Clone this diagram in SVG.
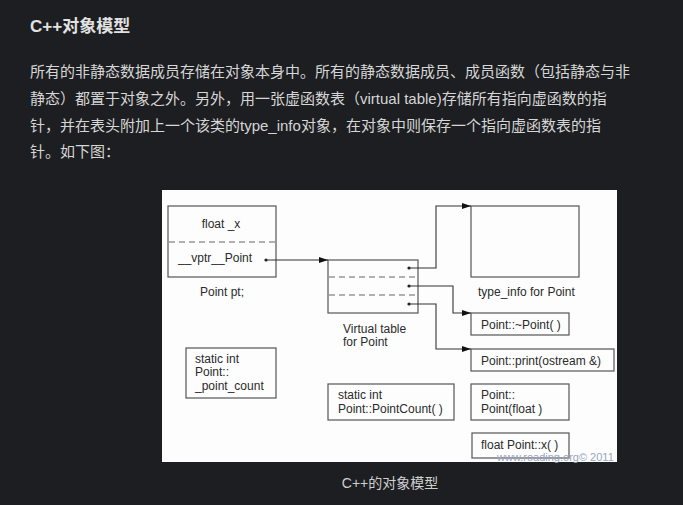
<svg xmlns="http://www.w3.org/2000/svg" width="683" height="505" viewBox="0 0 683 505">
<defs>
<style>
.pg{fill:#1d1e21}
.h{font-family:"Liberation Sans","Noto Sans CJK SC",sans-serif;font-size:17px;font-weight:bold;fill:#e2e2e2}
.p{font-family:"Liberation Sans","Noto Sans CJK SC",sans-serif;font-size:15px;fill:#d6d6d6}
.cap{font-family:"Liberation Sans","Noto Sans CJK SC",sans-serif;font-size:14px;fill:#d0d0d0}
.t{font-family:"Liberation Sans",Arial,sans-serif;font-size:12px;fill:#2a2a2a}
.box{fill:none;stroke:#555;stroke-width:1.2}
.dash{stroke:#666;stroke-width:1.1;stroke-dasharray:6 4;fill:none}
.ln{fill:none;stroke:#333;stroke-width:1.1}
.dot{fill:#222}
.wm{font-family:"Liberation Sans",Arial,sans-serif;font-size:11px;fill:#9aa6bf}
</style>
<marker id="ah" markerUnits="userSpaceOnUse" markerWidth="10" markerHeight="8" refX="9" refY="4" orient="auto">
<path d="M0,1 L9,4 L0,7 Z" fill="#111"/>
</marker>
</defs>
<rect class="pg" x="0" y="0" width="683" height="505"/>
<text class="h" x="30" y="32">C++对象模型</text>
<text class="p" x="30" y="77">所有的非静态数据成员存储在对象本身中。所有的静态数据成员、成员函数（包括静态与非</text>
<text class="p" x="30" y="104">静态）都置于对象之外。另外，用一张虚函数表（virtual table)存储所有指向虚函数的指</text>
<text class="p" x="30" y="131">针，并在表头附加上一个该类的type_info对象，在对象中则保存一个指向虚函数表的指</text>
<text class="p" x="30" y="157">针。如下图：</text>
<rect x="162" y="190" width="455" height="272" fill="#fdfdfd"/>
<g id="point-pt">
<rect class="box" x="168" y="206" width="108" height="71"/>
<line class="dash" x1="169" y1="242" x2="275" y2="242"/>
<text class="t" x="221" y="228" text-anchor="middle">float _x</text>
<text class="t" x="178" y="262">__vptr__Point</text>
<text class="t" x="222" y="296" text-anchor="middle">Point pt;</text>
</g>
<g id="vtable">
<rect class="box" x="328" y="260" width="90" height="53"/>
<line class="dash" x1="329" y1="277" x2="417" y2="277"/>
<line class="dash" x1="329" y1="295" x2="417" y2="295"/>
<text class="t" x="343" y="333">Virtual table</text>
<text class="t" x="343" y="346">for Point</text>
</g>
<g id="type-info">
<rect class="box" x="471" y="206" width="108" height="71"/>
<text class="t" x="478" y="296">type_info for Point</text>
</g>
<g id="dtor">
<rect class="box" x="471" y="313" width="98" height="22"/>
<text class="t" x="481" y="329">Point::~Point( )</text>
</g>
<g id="print">
<rect class="box" x="471" y="349" width="143" height="22"/>
<text class="t" x="481" y="365">Point::print(ostream &amp;)</text>
</g>
<g id="ctor">
<rect class="box" x="471" y="384" width="98" height="36"/>
<text class="t" x="481" y="399">Point::</text>
<text class="t" x="481" y="413">Point(float )</text>
</g>
<g id="getx">
<rect class="box" x="472" y="433" width="97" height="25"/>
<text class="t" x="481" y="449">float Point::x( )</text>
</g>
<g id="static-count">
<rect class="box" x="186" y="348" width="90" height="50"/>
<text class="t" x="195" y="363">static int</text>
<text class="t" x="195" y="376">Point::</text>
<text class="t" x="195" y="390">_point_count</text>
</g>
<g id="static-fn">
<rect class="box" x="328" y="384" width="126" height="36"/>
<text class="t" x="338" y="399">static int</text>
<text class="t" x="338" y="413">Point::PointCount( )</text>
</g>
<g id="connectors">
<path class="ln" d="M266,260 H328" marker-end="url(#ah)"/>
<path class="ln" d="M409,268 H436 V206 H471" marker-end="url(#ah)"/>
<path class="ln" d="M409,286 H453 V313 H471" marker-end="url(#ah)"/>
<path class="ln" d="M409,304 H436 V349 H471" marker-end="url(#ah)"/>
<circle class="dot" cx="266" cy="260" r="1.6"/>
<circle class="dot" cx="409" cy="268" r="1.6"/>
<circle class="dot" cx="409" cy="286" r="1.6"/>
<circle class="dot" cx="409" cy="304" r="1.6"/>
</g>
<text class="wm" x="497" y="461">www.roading.org© 2011</text>
<text class="cap" x="390" y="488" text-anchor="middle">C++的对象模型</text>
</svg>
